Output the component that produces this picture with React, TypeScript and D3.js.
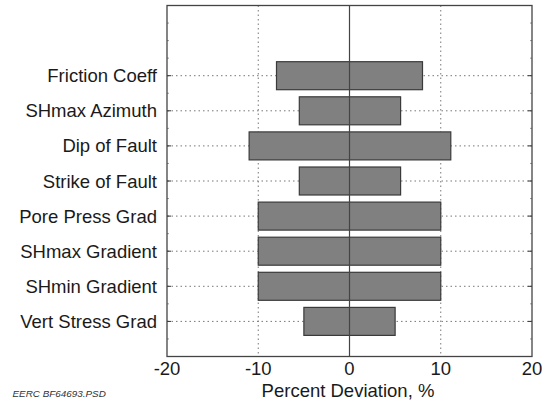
import React from "react";
import * as d3 from "d3";

const categories = [
  "Friction Coeff",
  "SHmax Azimuth",
  "Dip of Fault",
  "Strike of Fault",
  "Pore Press Grad",
  "SHmax Gradient",
  "SHmin Gradient",
  "Vert Stress Grad",
];
const lowValues = [-8, -5.5, -11, -5.5, -10, -10, -10, -5];
const highValues = [8, 5.6, 11.1, 5.6, 10, 10, 10, 5];
const xTicks = [-20, -10, 0, 10, 20];
const xTitle = "Percent Deviation, %";
const footer = "EERC BF64693.PSD";

const W = 549;
const H = 409;
const left = 167;
const right = 532;
const top = 5.5;
const bottom = 356.5;
const font = "'Liberation Sans', Arial, sans-serif";

export default function App() {
  const x = d3.scaleLinear().domain([-20, 20]).range([left, right]);
  const y = d3.scaleLinear().domain([0, 10]).range([bottom, top]);
  const pos = (i: number) => y(categories.length - i);
  const barH = 28;
  const minorY = d3.range(0, 10.01, 0.5);
  return (
    <svg
      width={W}
      height={H}
      style={{ position: "absolute", left: 0, top: 0, background: "#fff" }}
      fontFamily={font}
    >
      <rect x={0} y={0} width={W} height={H} fill="#fff" />
      {[-10, 10].map((v) => (
        <line
          key={"vg" + v}
          x1={x(v)}
          x2={x(v)}
          y1={top}
          y2={bottom}
          stroke="#777"
          strokeWidth={1}
          strokeDasharray="1.5 3"
        />
      ))}
      {categories.map((c, i) => (
        <line
          key={"hg" + c}
          x1={left}
          x2={right}
          y1={pos(i)}
          y2={pos(i)}
          stroke="#777"
          strokeWidth={1}
          strokeDasharray="1.5 3"
        />
      ))}
      {categories.map((c, i) => (
        <rect
          key={"b" + c}
          x={x(lowValues[i])}
          width={x(highValues[i]) - x(lowValues[i])}
          y={pos(i) - barH / 2}
          height={barH}
          fill="#808080"
          stroke="#3a3a3a"
          strokeWidth={1.2}
        />
      ))}
      <line x1={x(0)} x2={x(0)} y1={top} y2={bottom} stroke="#444" strokeWidth={1.2} />
      {minorY.map((v) => (
        <g key={"mt" + v}>
          <line x1={left} x2={left + 2} y1={y(v)} y2={y(v)} stroke="#999" strokeWidth={1} />
          <line x1={right - 2} x2={right} y1={y(v)} y2={y(v)} stroke="#999" strokeWidth={1} />
        </g>
      ))}
      {categories.map((c, i) => (
        <g key={"mj" + c}>
          <line x1={left} x2={left + 4} y1={pos(i)} y2={pos(i)} stroke="#333" strokeWidth={1} />
          <line x1={right - 4} x2={right} y1={pos(i)} y2={pos(i)} stroke="#333" strokeWidth={1} />
        </g>
      ))}
      <rect
        x={left}
        y={top}
        width={right - left}
        height={bottom - top}
        fill="none"
        stroke="#444"
        strokeWidth={1.3}
      />
      {categories.map((c, i) => (
        <text
          key={"l" + c}
          x={157}
          y={pos(i) + 6.5}
          textAnchor="end"
          fontSize={18.5}
          fill="#1a1a1a"
        >
          {c}
        </text>
      ))}
      {xTicks.map((t) => (
        <text
          key={"xt" + t}
          x={x(t)}
          y={375}
          textAnchor="middle"
          fontSize={18.5}
          fill="#1a1a1a"
        >
          {t}
        </text>
      ))}
      <text x={x(0) - 1.5} y={397} textAnchor="middle" fontSize={18.5} fill="#1a1a1a">
        {xTitle}
      </text>
      <text x={12.5} y={397} fontSize={9.9} fontStyle="italic" fill="#333">
        {footer}
      </text>
    </svg>
  );
}
